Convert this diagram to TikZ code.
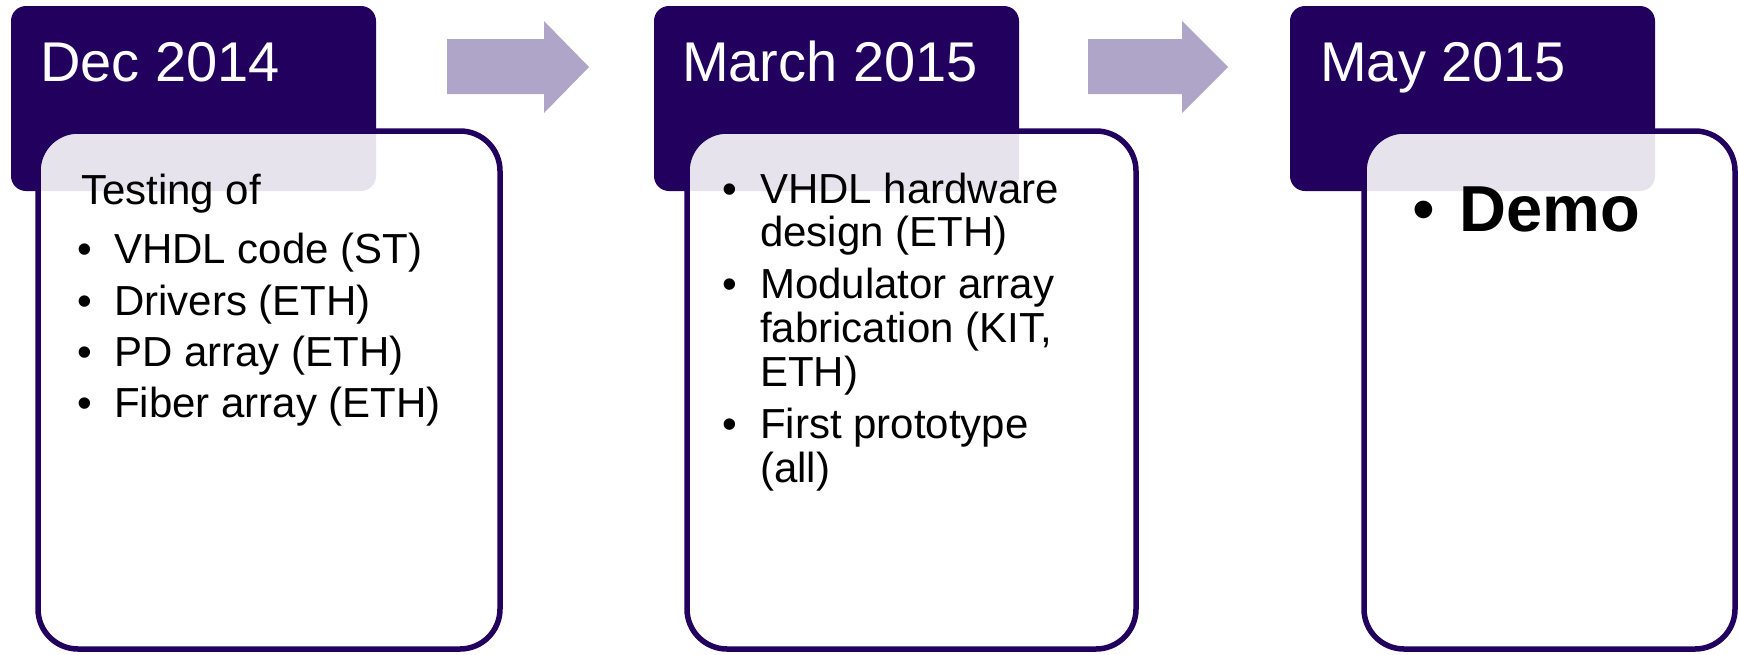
\documentclass[tikz,border=0pt]{standalone}
\usepackage{fontspec}
\setmainfont{Liberation Sans}
\definecolor{hdr}{HTML}{22005E}
\definecolor{arr}{HTML}{AFA5C8}
\begin{document}
\begin{tikzpicture}[x=1pt,y=-1pt,
  hdrbox/.style={fill=hdr, rounded corners=15pt, minimum width=365pt, minimum height=185pt, anchor=north west, inner sep=0pt, outer sep=0pt},
  bodybox/.style={draw=hdr, line width=5.5pt, fill=white, fill opacity=0.89, draw opacity=1, rounded corners=40pt, minimum height=518pt, anchor=north west, inner sep=0pt, outer sep=0pt},
  datetxt/.style={anchor=base west, inner sep=0pt, text=white, font=\fontsize{56}{60}\selectfont},
  bodytxt/.style={anchor=base west, inner sep=0pt, text=black, font=\fontsize{42}{44}\selectfont},
  bul/.style={anchor=base, inner sep=0pt, text=black, font=\fontsize{42}{44}\selectfont},
  demotxt/.style={anchor=base west, inner sep=0pt, text=black, font=\fontsize{65}{70}\selectfont\bfseries},
  bigbul/.style={anchor=base, inner sep=0pt, text=black, font=\fontsize{65}{70}\selectfont},
  blockarrow/.style={fill=arr}
]
\useasboundingbox (0,0) rectangle (1739,654);

% headers
\node[hdrbox] (h1) at (11,6) {};
\node[hdrbox] (h2) at (654,6) {};
\node[hdrbox] (h3) at (1290,6) {};

% bodies
\node[bodybox, minimum width=462pt] (b1) at (38,131) {};
\node[bodybox, minimum width=449pt] (b2) at (687,131) {};
\node[bodybox, minimum width=371pt] (b3) at (1364,131) {};

% block arrows
\fill[blockarrow] (447,39) -- (544,39) -- (544,21) -- (589,67) -- (544,113) -- (544,94) -- (447,94) -- cycle;
\fill[blockarrow] (1088,39) -- (1182,39) -- (1182,21) -- (1228,67) -- (1182,113) -- (1182,94) -- (1088,94) -- cycle;

% dates
\node[datetxt] (d1) at (40,81) {Dec 2014};
\node[datetxt] (d2) at (682,81) {March 2015};
\node[datetxt] (d3) at (1320,81) {May 2015};

% box 1
\node[bodytxt] (t1) at (81,204) {Testing of};
\node[bul] (p1a) at (85,263.5) {•};
\node[bodytxt] (l1a) at (114,263.5) {VHDL code (ST)};
\node[bul] (p1b) at (85,315) {•};
\node[bodytxt] (l1b) at (114,315) {Drivers (ETH)};
\node[bul] (p1c) at (85,366) {•};
\node[bodytxt] (l1c) at (114,366) {PD array (ETH)};
\node[bul] (p1d) at (85,417) {•};
\node[bodytxt] (l1d) at (114,417) {Fiber array (ETH)};

% box 2
\node[bul] (p2a) at (730,203) {•};
\node[bodytxt] (l2a) at (760,203) {VHDL hardware};
\node[bodytxt] (l2b) at (760,246) {design (ETH)};
\node[bul] (p2c) at (730,298) {•};
\node[bodytxt] (l2c) at (760,298) {Modulator array};
\node[bodytxt] (l2d) at (760,342) {fabrication (KIT,};
\node[bodytxt] (l2e) at (760,386) {ETH)};
\node[bul] (p2f) at (730,438) {•};
\node[bodytxt] (l2f) at (760,438) {First prototype};
\node[bodytxt] (l2g) at (760,482) {(all)};

% box 3
\node[bigbul] (p3a) at (1424,231) {•};
\node[demotxt] (l3a) at (1459,231) {Demo};
\end{tikzpicture}
\end{document}
